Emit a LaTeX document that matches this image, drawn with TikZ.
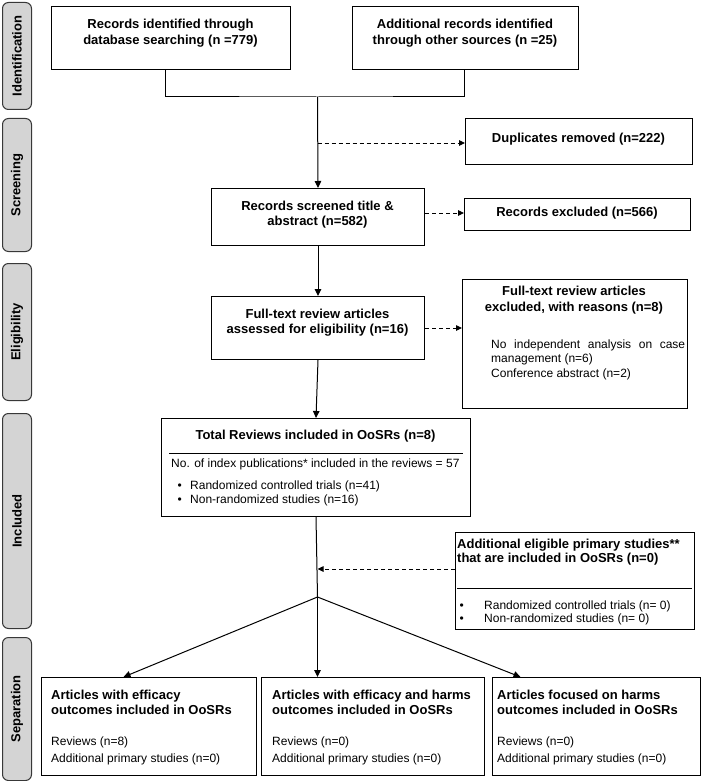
\documentclass[tikz,border=0pt]{standalone}
\usepackage{fontspec}
\setmainfont{Liberation Sans}
\usetikzlibrary{arrows.meta}
\begin{document}
\begin{tikzpicture}[x=1pt,y=-1pt,
  box/.style={draw, line width=1pt, inner sep=0pt, anchor=north west},
  ttl/.style={font=\fontsize{13}{15.6}\selectfont\bfseries, inner sep=0pt, align=center},
  ttll/.style={font=\fontsize{13}{14.8}\selectfont\bfseries, inner sep=0pt, align=left, anchor=north west},
  bod/.style={font=\fontsize{12}{14.5}\selectfont, inner sep=0pt, align=left},
  side/.style={draw=black!78, fill=black!17, rounded corners=6pt, line width=1pt, minimum width=29pt, inner sep=0pt, anchor=north west},
  sidet/.style={font=\fontsize{13}{15}\selectfont\bfseries, rotate=90, inner sep=0pt},
  ln/.style={line width=1pt},
  arr/.style={line width=1pt, -{Triangle[length=7pt,width=6.5pt]}},
  dsh/.style={line width=0.85pt, dash pattern=on 4pt off 3pt, -{Triangle[length=6pt,width=5.5pt]}},
]
\useasboundingbox (0,0) rectangle (709,781);
% side labels
\node[side, minimum height=107] (s1) at (2,2) {};
\node[sidet] (s1t) at (s1.center) {Identification};
\node[side, minimum height=133] (s2) at (2,118) {};
\node[sidet] (s2t) at (s2.center) {Screening};
\node[side, minimum height=137] (s3) at (2,263) {};
\node[sidet] (s3t) at (s3.center) {Eligibility};
\node[side, minimum height=215] (s4) at (2,413) {};
\node[sidet] (s4t) at (s4.center) {Included};
\node[side, minimum height=143] (s5) at (2,637) {};
\node[sidet] (s5t) at (s5.center) {Separation};

% identification
\node[box, minimum width=239, minimum height=63] (b1) at (51,6) {};
\node[ttl, anchor=north] (b1t) at (170.5,19) {Records identified through\\database searching (n =779)};
\node[box, minimum width=226, minimum height=63] (b2) at (352,6) {};
\node[ttl, anchor=north] (b2t) at (465,19) {Additional records identified\\through other sources (n =25)};

% screening
\node[box, minimum width=227, minimum height=46] (dup) at (465,118) {};
\node[ttl] (dupt) at (578.5,139) {Duplicates removed (n=222)};
\node[box, minimum width=213, minimum height=57] (b3) at (211,188) {};
\node[ttl, anchor=north] (b3t) at (317.5,200.5) {Records screened title \&\\abstract (n=582)};
\node[box, minimum width=226, minimum height=32] (exc) at (464,198) {};
\node[ttl] (exct) at (577,213) {Records excluded (n=566)};

% eligibility
\node[box, minimum width=213, minimum height=63] (b4) at (211,296) {};
\node[ttl, anchor=north] (b4t) at (317.5,308.5) {Full-text review articles\\assessed for eligibility (n=16)};
\node[box, minimum width=225, minimum height=129] (b5) at (462,279) {};
\node[ttl, anchor=north] (b5t) at (574,286) {Full-text review articles\\excluded, with reasons (n=8)};
\node[bod, anchor=north west, text width=194, align=justify] (b5b) at (491,339.5) {No independent analysis on case management (n=6)\\Conference abstract (n=2)};

% included
\node[box, minimum width=309, minimum height=98] (b6) at (161,418) {};
\node[ttl] (b6t) at (315.5,436) {Total Reviews included in OoSRs (n=8)};
\draw[ln] (169,453) -- (463,453);
\node[bod, anchor=base west] (b6a) at (171,467) {No. of index publications* included in the reviews = 57};
\node[bod, anchor=base west] (b6b) at (177.5,489) {\makebox[12.5pt][l]{•}Randomized controlled trials (n=41)};
\node[bod, anchor=base west] (b6c) at (177.5,503) {\makebox[12.5pt][l]{•}Non-randomized studies (n=16)};

\node[box, minimum width=239, minimum height=97] (b7) at (455,532) {};
\node[ttll] (b7t) at (457,538.5) {Additional eligible primary studies**\\that are included in OoSRs (n=0)};
\draw[ln] (457,588) -- (692,588);
\node[bod, anchor=base west] (b7a) at (459.5,609) {\makebox[24.5pt][l]{•}Randomized controlled trials (n= 0)};
\node[bod, anchor=base west] (b7b) at (459.5,622) {\makebox[24.5pt][l]{•}Non-randomized studies (n= 0)};

% separation
\node[box, minimum width=215, minimum height=98] (b8) at (41,677) {};
\node[ttll] (b8t) at (51,690) {Articles with efficacy\\outcomes included in OoSRs};
\node[bod, anchor=north west, font=\fontsize{12}{17}\selectfont] (b8b) at (51,736.5) {Reviews (n=8)\\Additional primary studies (n=0)};
\node[box, minimum width=223, minimum height=98] (b9) at (261,677) {};
\node[ttll] (b9t) at (272,690) {Articles with efficacy and harms\\outcomes included in OoSRs};
\node[bod, anchor=north west, font=\fontsize{12}{17}\selectfont] (b9b) at (272,736.5) {Reviews (n=0)\\Additional primary studies (n=0)};
\node[box, minimum width=208, minimum height=98] (b10) at (492,677) {};
\node[ttll] (b10t) at (497,690) {Articles focused on harms\\outcomes included in OoSRs};
\node[bod, anchor=north west, font=\fontsize{12}{17}\selectfont] (b10b) at (497,736.5) {Reviews (n=0)\\Additional primary studies (n=0)};

% connectors
\coordinate (j1) at (317.5,97);
\coordinate (d1) at (317.5,143);
\coordinate (d3) at (317.5,569);
\coordinate (br) at (317.5,597);
\draw[ln] ([xshift=-5.5pt]b1.south) |- (j1) -| ([xshift=-1pt]b2.south);
\draw[arr] (j1) -- (b3.north);
\draw[dsh] (d1) -- (d1 -| dup.west);
\draw[dsh] ([yshift=4pt]b3.east) -- ([yshift=4pt]b3.east -| exc.west);
\draw[arr] (b3.south) -- (b4.north);
\draw[dsh] (b4.east) -- (b4.east -| b5.west);
\draw[arr] (b4.south) -- (b6.north);
\draw[ln] (b6.south) -- (br);
\draw[dsh] (d3 -| b7.west) -- (d3);
\draw[arr] (br) -- ([xshift=-25.5pt]b8.north);
\draw[arr] (br) -- (br |- b9.north);
\draw[arr] (br) -- ([xshift=-76pt]b10.north);
\end{tikzpicture}
\end{document}
